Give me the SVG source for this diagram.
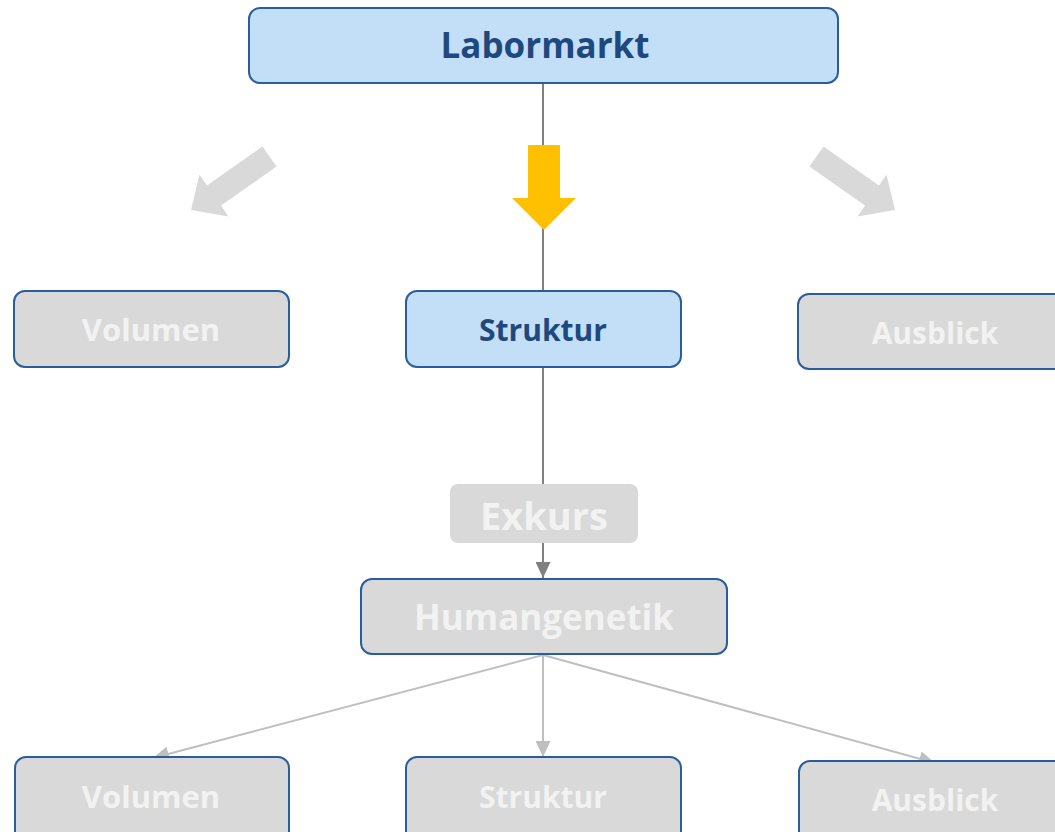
<svg xmlns="http://www.w3.org/2000/svg" width="1055" height="832" viewBox="0 0 1055 832">
<defs>
<style>
.t{font-family:"Open Sans","Noto Sans","Liberation Sans",sans-serif;font-weight:bold;text-anchor:middle}
.blue{fill:#c3dff7;stroke:#2a5d9c;stroke-width:2}
.grey{fill:#d9d9d9;stroke:#2a5d9c;stroke-width:2}
.dk{fill:#1f497d}
.lt{fill:#f2f2f2}
</style>
<marker id="ad" viewBox="0 0 16 15" refX="16" refY="7.5" markerWidth="16" markerHeight="15" markerUnits="userSpaceOnUse" orient="auto">
<path d="M0,0 L16,7.5 L0,15 Z" fill="#808080"/>
</marker>
<marker id="al" viewBox="0 0 16 15" refX="16" refY="7.5" markerWidth="16" markerHeight="15" markerUnits="userSpaceOnUse" orient="auto">
<path d="M0,0 L16,7.5 L0,15 Z" fill="#bfbfbf"/>
</marker>
</defs>
<rect width="1055" height="832" fill="#ffffff"/>
<g id="connectors">
<line x1="543" y1="83" x2="543" y2="291" stroke="#808080" stroke-width="2"/>
<line x1="543" y1="367" x2="543" y2="484" stroke="#808080" stroke-width="2"/>
<line x1="543" y1="543" x2="543" y2="578" stroke="#808080" stroke-width="2" marker-end="url(#ad)"/>
<line x1="543" y1="655" x2="153" y2="758" stroke="#bfbfbf" stroke-width="2" marker-end="url(#al)"/>
<line x1="543" y1="655" x2="543" y2="757" stroke="#bfbfbf" stroke-width="2" marker-end="url(#al)"/>
<line x1="543" y1="655" x2="935" y2="763" stroke="#bfbfbf" stroke-width="2" marker-end="url(#al)"/>
</g>
<g id="arrows">
<polygon points="528,145 560,145 560,198 576,198 544,230 512,198 528,198" fill="#ffc000"/>
<polygon points="262.5,146.4 276.5,166.6 221,205.6 228.5,216.5 191,210 199.5,174.5 207,185.4" fill="#d9d9d9"/>
<polygon points="823.5,146.4 809.5,166.6 865,205.6 857.5,216.5 895,210 886.5,174.5 879,185.4" fill="#d9d9d9"/>
</g>
<g id="labormarkt">
<rect class="blue" x="249" y="8" width="589" height="75" rx="11"/>
<text class="t dk" x="545" y="58" font-size="35">Labormarkt</text>
</g>
<g id="volumen1">
<rect class="grey" x="14" y="291" width="275" height="76" rx="11"/>
<text class="t lt" x="151" y="341" font-size="31">Volumen</text>
</g>
<g id="struktur1">
<rect class="blue" x="406" y="291" width="275" height="76" rx="11"/>
<text class="t dk" x="543" y="341" font-size="30">Struktur</text>
</g>
<g id="ausblick1">
<rect class="grey" x="798" y="294" width="275" height="75" rx="11"/>
<text class="t lt" x="935" y="344" font-size="30">Ausblick</text>
</g>
<g id="exkurs">
<rect x="450" y="484" width="188" height="59" rx="8" fill="#d9d9d9"/>
<text class="t lt" x="544" y="530" font-size="38">Exkurs</text>
</g>
<g id="humangenetik">
<rect class="grey" x="361" y="579" width="366" height="75" rx="11"/>
<text class="t lt" x="544" y="630" font-size="35">Humangenetik</text>
</g>
<g id="volumen2">
<rect class="grey" x="15" y="757" width="274" height="90" rx="11"/>
<text class="t lt" x="151" y="808" font-size="31">Volumen</text>
</g>
<g id="struktur2">
<rect class="grey" x="406" y="757" width="275" height="90" rx="11"/>
<text class="t lt" x="543" y="808" font-size="30">Struktur</text>
</g>
<g id="ausblick2">
<rect class="grey" x="799" y="761" width="275" height="90" rx="11"/>
<text class="t lt" x="935" y="811" font-size="30">Ausblick</text>
</g>
</svg>
